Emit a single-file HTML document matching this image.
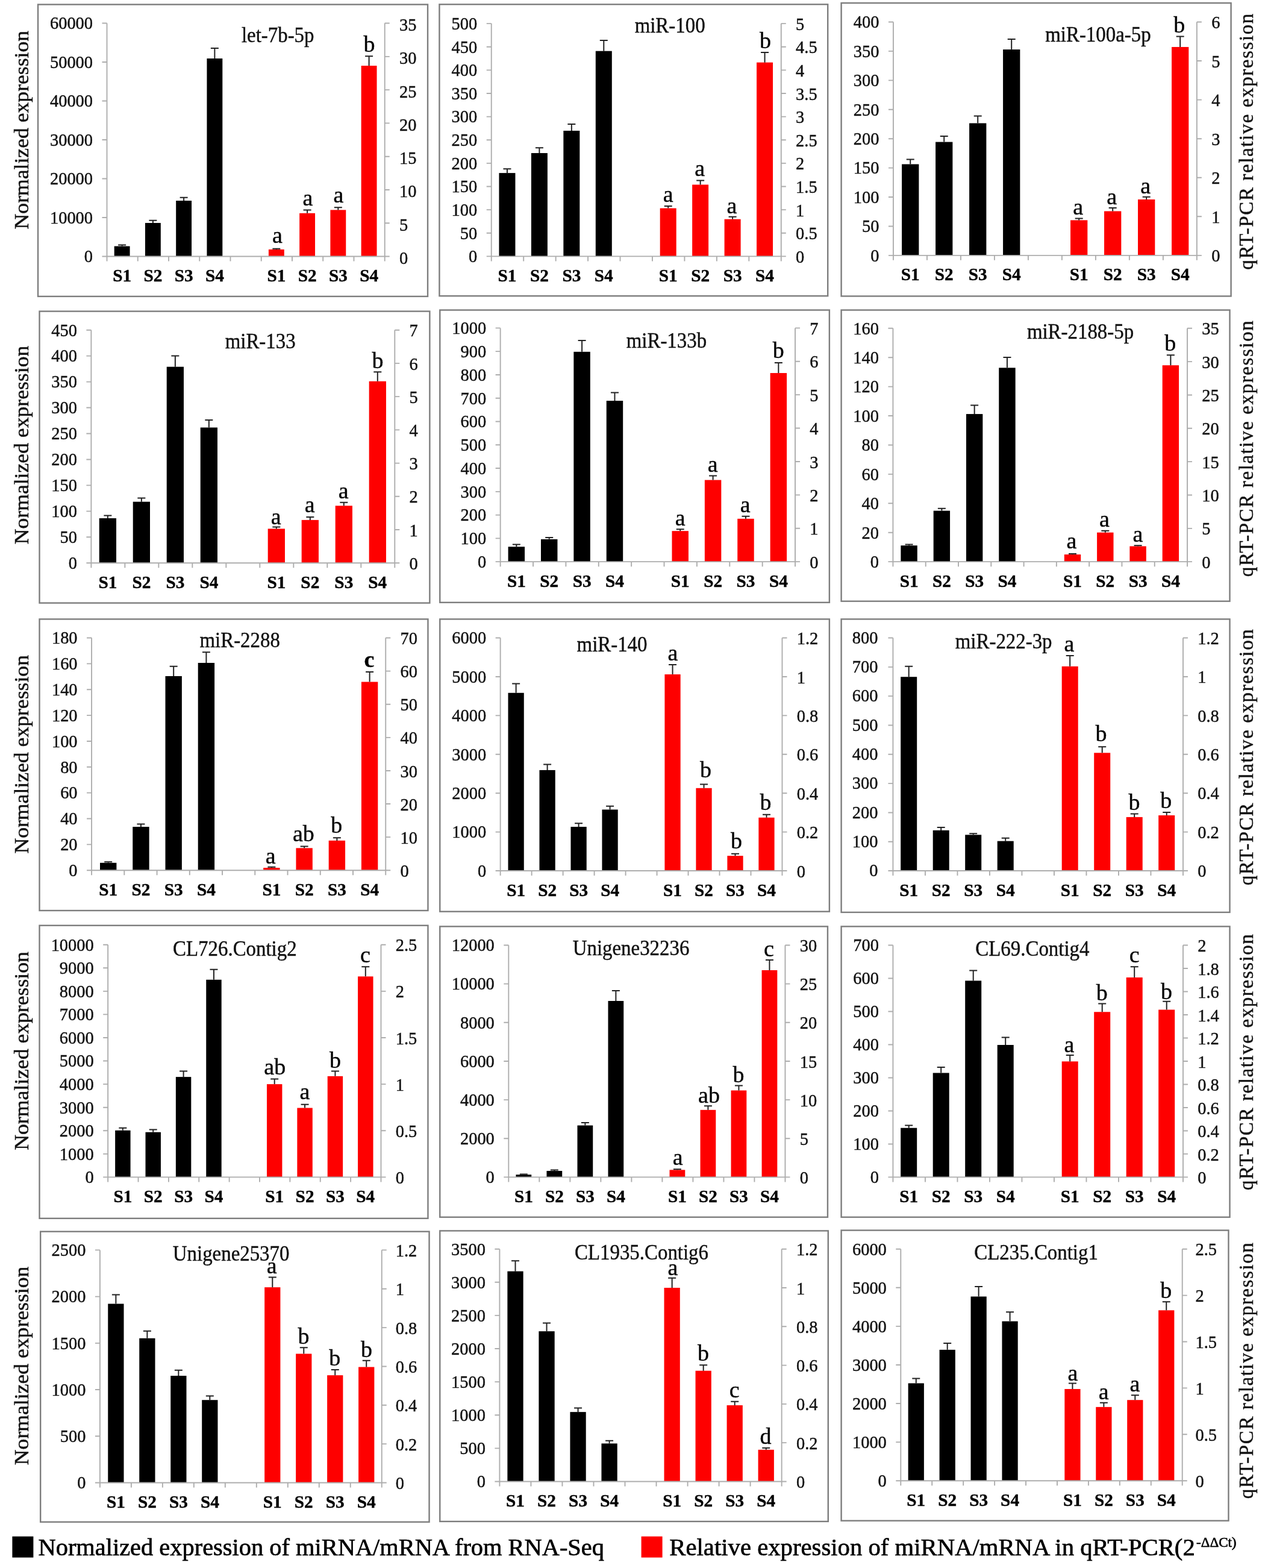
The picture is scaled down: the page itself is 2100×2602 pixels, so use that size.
<!DOCTYPE html>
<html lang="en">
<head>
<meta charset="utf-8">
<title>Normalized expression and qRT-PCR relative expression of miRNA/mRNA</title>
<style>
html,body{margin:0;padding:0;background:#fff}
body{width:2100px;height:2602px;overflow:hidden}
svg{display:block;filter:blur(0.75px)}
text{font-family:"Liberation Serif","DejaVu Serif",serif;fill:#111;stroke:#111;stroke-width:0.45px}
.t text{font-size:29px}
.s text{font-size:28.7px;font-weight:bold;fill:#000}
.ti{font-size:35px}
.l text{font-size:38px;fill:#000}
.y{font-size:33px}
.lg{font-size:41px;fill:#000;stroke:#000;stroke-width:0.7px}
.sup{font-size:22.5px;fill:#000;stroke:#000;stroke-width:0.7px}
</style>
</head>
<body>
<svg width="2100" height="2602" viewBox="0 0 2100 2602">
<rect width="2100" height="2602" fill="#fff"/>
<g>
<rect x="63.04" y="7.47" width="647" height="484.42" fill="#fff" stroke="#7d7d7d" stroke-width="2.4"/>
<rect x="189.69" y="408.53" width="25.88" height="17" fill="#000"/>
<rect x="240.94" y="369.95" width="25.88" height="55.58" fill="#000"/>
<rect x="292.18" y="333.04" width="25.88" height="92.49" fill="#000"/>
<rect x="343.43" y="97.05" width="25.88" height="328.48" fill="#000"/>
<rect x="445.92" y="413.92" width="25.88" height="11.61" fill="#fe0000"/>
<rect x="497.16" y="353.78" width="25.88" height="71.75" fill="#fe0000"/>
<rect x="548.4" y="348.39" width="25.88" height="77.14" fill="#fe0000"/>
<rect x="599.65" y="109.08" width="25.88" height="316.45" fill="#fe0000"/>
<path d="M177.51 38.57V425.53M638.71 38.57V425.53M169.51 425.53H646.71M169.51 361.04H177.51M169.51 296.54H177.51M169.51 232.05H177.51M169.51 167.56H177.51M169.51 103.06H177.51M169.51 38.57H177.51M638.71 370.25H646.71M638.71 314.97H646.71M638.71 259.69H646.71M638.71 204.41H646.71M638.71 149.13H646.71M638.71 93.85H646.71M638.71 38.57H646.71M177.51 425.53V433.53M228.76 425.53V433.53M280 425.53V433.53M331.24 425.53V433.53M382.49 425.53V433.53M433.73 425.53V433.53M484.98 425.53V433.53M536.22 425.53V433.53M587.47 425.53V433.53M638.71 425.53V433.53" stroke="#adadad" stroke-width="1.9" fill="none"/>
<path d="M202.63 408.53V406.45M196.13 406.45H209.13M253.88 369.95V365.81M247.38 365.81H260.38M305.12 333.04V327.65M298.62 327.65H311.62M356.37 97.05V80.05M349.87 80.05H362.87M458.85 413.92V412.67M452.35 412.67H465.35M510.1 353.78V348.39M503.6 348.39H516.6M561.34 348.39V344.24M554.84 344.24H567.84M612.59 109.08V93.32M606.09 93.32H619.09" stroke="#222" stroke-width="2" fill="none"/>
<g class="t" text-anchor="end">
<text transform="translate(154.01 435.33) scale(0.98 1)">0</text>
<text transform="translate(154.01 370.84) scale(0.98 1)">10000</text>
<text transform="translate(154.01 306.34) scale(0.98 1)">20000</text>
<text transform="translate(154.01 241.85) scale(0.98 1)">30000</text>
<text transform="translate(154.01 177.36) scale(0.98 1)">40000</text>
<text transform="translate(154.01 112.86) scale(0.98 1)">50000</text>
<text transform="translate(154.01 48.37) scale(0.98 1)">60000</text>
</g><g class="t">
<text transform="translate(663.01 438.03) scale(0.98 1)">0</text>
<text transform="translate(663.01 382.75) scale(0.98 1)">5</text>
<text transform="translate(663.01 327.47) scale(0.98 1)">10</text>
<text transform="translate(663.01 272.19) scale(0.98 1)">15</text>
<text transform="translate(663.01 216.91) scale(0.98 1)">20</text>
<text transform="translate(663.01 161.63) scale(0.98 1)">25</text>
<text transform="translate(663.01 106.35) scale(0.98 1)">30</text>
<text transform="translate(663.01 51.07) scale(0.98 1)">35</text>
</g>
<g class="s" text-anchor="middle">
<text transform="translate(202.63 467.13) scale(1.02 1)">S1</text>
<text transform="translate(253.88 467.13) scale(1.02 1)">S2</text>
<text transform="translate(305.12 467.13) scale(1.02 1)">S3</text>
<text transform="translate(356.37 467.13) scale(1.02 1)">S4</text>
<text transform="translate(458.85 467.13) scale(1.02 1)">S1</text>
<text transform="translate(510.1 467.13) scale(1.02 1)">S2</text>
<text transform="translate(561.34 467.13) scale(1.02 1)">S3</text>
<text transform="translate(612.59 467.13) scale(1.02 1)">S4</text>
</g>
<text class="ti" transform="translate(461.2 70.14) scale(0.94 1)" text-anchor="middle">let-7b-5p</text>
<g class="l" text-anchor="middle">
<text x="460.37" y="402.81">a</text>
<text x="510.97" y="340.6">a</text>
<text x="561.98" y="336.45">a</text>
<text x="613" y="85.85">b</text>
</g>
<text class="y" text-anchor="middle" transform="translate(46.8 215.67) rotate(-90)" textLength="329.5" lengthAdjust="spacingAndGlyphs">Normalized expression</text>
</g>
<g>
<rect x="729.44" y="7.26" width="644.76" height="483.87" fill="#fff" stroke="#7d7d7d" stroke-width="2.4"/>
<rect x="828.45" y="287.1" width="26.99" height="138.31" fill="#000"/>
<rect x="881.9" y="254.03" width="26.99" height="171.37" fill="#000"/>
<rect x="935.35" y="216.94" width="26.99" height="208.47" fill="#000"/>
<rect x="988.8" y="84.68" width="26.99" height="340.73" fill="#000"/>
<rect x="1095.7" y="345.56" width="26.99" height="79.84" fill="#fe0000"/>
<rect x="1149.15" y="306.45" width="26.99" height="118.95" fill="#fe0000"/>
<rect x="1202.6" y="363.71" width="26.99" height="61.69" fill="#fe0000"/>
<rect x="1256.05" y="103.63" width="26.99" height="321.77" fill="#fe0000"/>
<path d="M815.73 39.11V425.4M1296.77 39.11V425.4M807.73 425.4H1304.77M807.73 386.77H815.73M807.73 348.15H815.73M807.73 309.52H815.73M807.73 270.89H815.73M807.73 232.26H815.73M807.73 193.63H815.73M807.73 155H815.73M807.73 116.37H815.73M807.73 77.74H815.73M807.73 39.11H815.73M1296.77 386.77H1304.77M1296.77 348.15H1304.77M1296.77 309.52H1304.77M1296.77 270.89H1304.77M1296.77 232.26H1304.77M1296.77 193.63H1304.77M1296.77 155H1304.77M1296.77 116.37H1304.77M1296.77 77.74H1304.77M1296.77 39.11H1304.77M815.73 425.4V433.4M869.18 425.4V433.4M922.63 425.4V433.4M976.08 425.4V433.4M1029.53 425.4V433.4M1082.97 425.4V433.4M1136.42 425.4V433.4M1189.87 425.4V433.4M1243.32 425.4V433.4M1296.77 425.4V433.4" stroke="#adadad" stroke-width="1.9" fill="none"/>
<path d="M841.95 287.1V280.24M835.45 280.24H848.45M895.4 254.03V245.16M888.9 245.16H901.9M948.85 216.94V206.05M942.35 206.05H955.35M1002.3 84.68V66.94M995.8 66.94H1008.8M1109.2 345.56V341.94M1102.7 341.94H1115.7M1162.65 306.45V299.6M1156.15 299.6H1169.15M1216.1 363.71V359.68M1209.6 359.68H1222.6M1269.55 103.63V87.1M1263.05 87.1H1276.05" stroke="#222" stroke-width="2" fill="none"/>
<g class="t" text-anchor="end">
<text transform="translate(792.23 435.2) scale(0.98 1)">0</text>
<text transform="translate(792.23 396.57) scale(0.98 1)">50</text>
<text transform="translate(792.23 357.95) scale(0.98 1)">100</text>
<text transform="translate(792.23 319.32) scale(0.98 1)">150</text>
<text transform="translate(792.23 280.69) scale(0.98 1)">200</text>
<text transform="translate(792.23 242.06) scale(0.98 1)">250</text>
<text transform="translate(792.23 203.43) scale(0.98 1)">300</text>
<text transform="translate(792.23 164.8) scale(0.98 1)">350</text>
<text transform="translate(792.23 126.17) scale(0.98 1)">400</text>
<text transform="translate(792.23 87.54) scale(0.98 1)">450</text>
<text transform="translate(792.23 48.91) scale(0.98 1)">500</text>
</g><g class="t">
<text transform="translate(1321.07 436) scale(0.98 1)">0</text>
<text transform="translate(1321.07 397.37) scale(0.98 1)">0.5</text>
<text transform="translate(1321.07 358.75) scale(0.98 1)">1</text>
<text transform="translate(1321.07 320.12) scale(0.98 1)">1.5</text>
<text transform="translate(1321.07 281.49) scale(0.98 1)">2</text>
<text transform="translate(1321.07 242.86) scale(0.98 1)">2.5</text>
<text transform="translate(1321.07 204.23) scale(0.98 1)">3</text>
<text transform="translate(1321.07 165.6) scale(0.98 1)">3.5</text>
<text transform="translate(1321.07 126.97) scale(0.98 1)">4</text>
<text transform="translate(1321.07 88.34) scale(0.98 1)">4.5</text>
<text transform="translate(1321.07 49.71) scale(0.98 1)">5</text>
</g>
<g class="s" text-anchor="middle">
<text transform="translate(841.95 467) scale(1.02 1)">S1</text>
<text transform="translate(895.4 467) scale(1.02 1)">S2</text>
<text transform="translate(948.85 467) scale(1.02 1)">S3</text>
<text transform="translate(1002.3 467) scale(1.02 1)">S4</text>
<text transform="translate(1109.2 467) scale(1.02 1)">S1</text>
<text transform="translate(1162.65 467) scale(1.02 1)">S2</text>
<text transform="translate(1216.1 467) scale(1.02 1)">S3</text>
<text transform="translate(1269.55 467) scale(1.02 1)">S4</text>
</g>
<text class="ti" transform="translate(1112.1 53.55) scale(0.94 1)" text-anchor="middle">miR-100</text>
<g class="l" text-anchor="middle">
<text x="1109.27" y="334.5">a</text>
<text x="1161.69" y="292.27">a</text>
<text x="1214.92" y="354.36">a</text>
<text x="1270.56" y="79.75">b</text>
</g>
</g>
<g>
<rect x="1396.59" y="4.98" width="647" height="486.5" fill="#fff" stroke="#7d7d7d" stroke-width="2.4"/>
<rect x="1497.1" y="272.49" width="28.28" height="151.38" fill="#000"/>
<rect x="1553.09" y="235.58" width="28.28" height="188.29" fill="#000"/>
<rect x="1609.08" y="204.47" width="28.28" height="219.4" fill="#000"/>
<rect x="1665.07" y="82.12" width="28.28" height="341.75" fill="#000"/>
<rect x="1777.05" y="365.39" width="28.28" height="58.48" fill="#fe0000"/>
<rect x="1833.04" y="350.46" width="28.28" height="73.41" fill="#fe0000"/>
<rect x="1889.04" y="330.97" width="28.28" height="92.9" fill="#fe0000"/>
<rect x="1945.03" y="77.97" width="28.28" height="345.9" fill="#fe0000"/>
<path d="M1482.94 36.5V423.87M1986.86 36.5V423.87M1474.94 423.87H1994.86M1474.94 375.45H1482.94M1474.94 327.03H1482.94M1474.94 278.61H1482.94M1474.94 230.18H1482.94M1474.94 181.76H1482.94M1474.94 133.34H1482.94M1474.94 84.92H1482.94M1474.94 36.5H1482.94M1986.86 359.31H1994.86M1986.86 294.75H1994.86M1986.86 230.18H1994.86M1986.86 165.62H1994.86M1986.86 101.06H1994.86M1986.86 36.5H1994.86M1482.94 423.87V431.87M1538.93 423.87V431.87M1594.92 423.87V431.87M1650.91 423.87V431.87M1706.91 423.87V431.87M1762.9 423.87V431.87M1818.89 423.87V431.87M1874.88 423.87V431.87M1930.87 423.87V431.87M1986.86 423.87V431.87" stroke="#adadad" stroke-width="1.9" fill="none"/>
<path d="M1511.24 272.49V264.61M1504.74 264.61H1517.74M1567.23 235.58V226.04M1560.73 226.04H1573.73M1623.22 204.47V192.44M1616.72 192.44H1629.72M1679.21 82.12V65.12M1672.71 65.12H1685.71M1791.19 365.39V362.49M1784.69 362.49H1797.69M1847.18 350.46V345.07M1840.68 345.07H1853.68M1903.17 330.97V326.82M1896.67 326.82H1909.67M1959.16 77.97V60.55M1952.66 60.55H1965.66" stroke="#222" stroke-width="2" fill="none"/>
<g class="t" text-anchor="end">
<text transform="translate(1459.44 433.67) scale(0.98 1)">0</text>
<text transform="translate(1459.44 385.25) scale(0.98 1)">50</text>
<text transform="translate(1459.44 336.83) scale(0.98 1)">100</text>
<text transform="translate(1459.44 288.41) scale(0.98 1)">150</text>
<text transform="translate(1459.44 239.98) scale(0.98 1)">200</text>
<text transform="translate(1459.44 191.56) scale(0.98 1)">250</text>
<text transform="translate(1459.44 143.14) scale(0.98 1)">300</text>
<text transform="translate(1459.44 94.72) scale(0.98 1)">350</text>
<text transform="translate(1459.44 46.3) scale(0.98 1)">400</text>
</g><g class="t">
<text transform="translate(2011.16 434.47) scale(0.98 1)">0</text>
<text transform="translate(2011.16 369.91) scale(0.98 1)">1</text>
<text transform="translate(2011.16 305.35) scale(0.98 1)">2</text>
<text transform="translate(2011.16 240.78) scale(0.98 1)">3</text>
<text transform="translate(2011.16 176.22) scale(0.98 1)">4</text>
<text transform="translate(2011.16 111.66) scale(0.98 1)">5</text>
<text transform="translate(2011.16 47.1) scale(0.98 1)">6</text>
</g>
<g class="s" text-anchor="middle">
<text transform="translate(1511.24 465.47) scale(1.02 1)">S1</text>
<text transform="translate(1567.23 465.47) scale(1.02 1)">S2</text>
<text transform="translate(1623.22 465.47) scale(1.02 1)">S3</text>
<text transform="translate(1679.21 465.47) scale(1.02 1)">S4</text>
<text transform="translate(1791.19 465.47) scale(1.02 1)">S1</text>
<text transform="translate(1847.18 465.47) scale(1.02 1)">S2</text>
<text transform="translate(1903.17 465.47) scale(1.02 1)">S3</text>
<text transform="translate(1959.16 465.47) scale(1.02 1)">S4</text>
</g>
<text class="ti" transform="translate(1822.95 69.31) scale(0.94 1)" text-anchor="middle">miR-100a-5p</text>
<g class="l" text-anchor="middle">
<text x="1789.77" y="356.36">a</text>
<text x="1845.76" y="338.52">a</text>
<text x="1901.75" y="320.69">a</text>
<text x="1957.74" y="53.92">b</text>
</g>
<text class="y" text-anchor="middle" transform="translate(2079.55 235.16) rotate(-90)" textLength="425" lengthAdjust="spacing">qRT-PCR relative expression</text>
</g>
<g>
<rect x="65.53" y="516.59" width="647.83" height="484.01" fill="#fff" stroke="#7d7d7d" stroke-width="2.4"/>
<rect x="164.74" y="860" width="28.28" height="74.24" fill="#000"/>
<rect x="220.73" y="832.63" width="28.28" height="101.61" fill="#000"/>
<rect x="276.72" y="608.66" width="28.28" height="325.58" fill="#000"/>
<rect x="332.71" y="709.45" width="28.28" height="224.79" fill="#000"/>
<rect x="444.69" y="877.42" width="28.28" height="56.82" fill="#fe0000"/>
<rect x="500.68" y="862.9" width="28.28" height="71.34" fill="#fe0000"/>
<rect x="556.68" y="839.26" width="28.28" height="94.98" fill="#fe0000"/>
<rect x="612.67" y="632.72" width="28.28" height="301.52" fill="#fe0000"/>
<path d="M151.38 547.7V934.24M655.3 547.7V934.24M143.38 934.24H663.3M143.38 891.29H151.38M143.38 848.34H151.38M143.38 805.39H151.38M143.38 762.44H151.38M143.38 719.49H151.38M143.38 676.54H151.38M143.38 633.59H151.38M143.38 590.65H151.38M143.38 547.7H151.38M655.3 879.02H663.3M655.3 823.8H663.3M655.3 768.58H663.3M655.3 713.36H663.3M655.3 658.14H663.3M655.3 602.92H663.3M655.3 547.7H663.3M151.38 934.24V942.24M207.37 934.24V942.24M263.36 934.24V942.24M319.35 934.24V942.24M375.35 934.24V942.24M431.34 934.24V942.24M487.33 934.24V942.24M543.32 934.24V942.24M599.31 934.24V942.24M655.3 934.24V942.24" stroke="#adadad" stroke-width="1.9" fill="none"/>
<path d="M178.88 860V855.44M172.38 855.44H185.38M234.87 832.63V826.41M228.37 826.41H241.37M290.86 608.66V590.41M284.36 590.41H297.36M346.85 709.45V697M340.35 697H353.35M458.83 877.42V874.52M452.33 874.52H465.33M514.82 862.9V857.93M508.32 857.93H521.32M570.81 839.26V833.87M564.31 833.87H577.31M626.8 632.72V617.37M620.3 617.37H633.3" stroke="#222" stroke-width="2" fill="none"/>
<g class="t" text-anchor="end">
<text transform="translate(127.88 944.04) scale(0.98 1)">0</text>
<text transform="translate(127.88 901.09) scale(0.98 1)">50</text>
<text transform="translate(127.88 858.14) scale(0.98 1)">100</text>
<text transform="translate(127.88 815.19) scale(0.98 1)">150</text>
<text transform="translate(127.88 772.24) scale(0.98 1)">200</text>
<text transform="translate(127.88 729.29) scale(0.98 1)">250</text>
<text transform="translate(127.88 686.34) scale(0.98 1)">300</text>
<text transform="translate(127.88 643.39) scale(0.98 1)">350</text>
<text transform="translate(127.88 600.45) scale(0.98 1)">400</text>
<text transform="translate(127.88 557.5) scale(0.98 1)">450</text>
</g><g class="t">
<text transform="translate(679.6 944.84) scale(0.98 1)">0</text>
<text transform="translate(679.6 889.62) scale(0.98 1)">1</text>
<text transform="translate(679.6 834.4) scale(0.98 1)">2</text>
<text transform="translate(679.6 779.18) scale(0.98 1)">3</text>
<text transform="translate(679.6 723.96) scale(0.98 1)">4</text>
<text transform="translate(679.6 668.74) scale(0.98 1)">5</text>
<text transform="translate(679.6 613.52) scale(0.98 1)">6</text>
<text transform="translate(679.6 558.3) scale(0.98 1)">7</text>
</g>
<g class="s" text-anchor="middle">
<text transform="translate(178.88 975.84) scale(1.02 1)">S1</text>
<text transform="translate(234.87 975.84) scale(1.02 1)">S2</text>
<text transform="translate(290.86 975.84) scale(1.02 1)">S3</text>
<text transform="translate(346.85 975.84) scale(1.02 1)">S4</text>
<text transform="translate(458.83 975.84) scale(1.02 1)">S1</text>
<text transform="translate(514.82 975.84) scale(1.02 1)">S2</text>
<text transform="translate(570.81 975.84) scale(1.02 1)">S3</text>
<text transform="translate(626.8 975.84) scale(1.02 1)">S4</text>
</g>
<text class="ti" transform="translate(432.17 578.43) scale(0.94 1)" text-anchor="middle">miR-133</text>
<g class="l" text-anchor="middle">
<text x="458.29" y="869.63">a</text>
<text x="514.29" y="849.72">a</text>
<text x="570.28" y="827.33">a</text>
<text x="627.1" y="610.74">b</text>
</g>
<text class="y" text-anchor="middle" transform="translate(46.8 738.48) rotate(-90)" textLength="329.5" lengthAdjust="spacingAndGlyphs">Normalized expression</text>
</g>
<g>
<rect x="730.28" y="514.52" width="646.59" height="485.25" fill="#fff" stroke="#7d7d7d" stroke-width="2.4"/>
<rect x="843.6" y="907.28" width="27.46" height="24.88" fill="#000"/>
<rect x="897.98" y="894.84" width="27.46" height="37.33" fill="#000"/>
<rect x="952.36" y="583.78" width="27.46" height="348.39" fill="#000"/>
<rect x="1006.74" y="665.07" width="27.46" height="267.1" fill="#000"/>
<rect x="1115.49" y="881.15" width="27.46" height="51.01" fill="#fe0000"/>
<rect x="1169.87" y="796.54" width="27.46" height="135.62" fill="#fe0000"/>
<rect x="1224.25" y="860.83" width="27.46" height="71.34" fill="#fe0000"/>
<rect x="1278.63" y="619.03" width="27.46" height="313.13" fill="#fe0000"/>
<path d="M830.65 544.38V932.17M1320.05 544.38V932.17M822.65 932.17H1328.05M822.65 893.39H830.65M822.65 854.61H830.65M822.65 815.83H830.65M822.65 777.05H830.65M822.65 738.27H830.65M822.65 699.49H830.65M822.65 660.71H830.65M822.65 621.94H830.65M822.65 583.16H830.65M822.65 544.38H830.65M1320.05 876.77H1328.05M1320.05 821.37H1328.05M1320.05 765.97H1328.05M1320.05 710.57H1328.05M1320.05 655.17H1328.05M1320.05 599.78H1328.05M1320.05 544.38H1328.05M830.65 932.17V940.17M885.02 932.17V940.17M939.4 932.17V940.17M993.78 932.17V940.17M1048.16 932.17V940.17M1102.53 932.17V940.17M1156.91 932.17V940.17M1211.29 932.17V940.17M1265.67 932.17V940.17M1320.05 932.17V940.17" stroke="#adadad" stroke-width="1.9" fill="none"/>
<path d="M857.33 907.28V903.55M850.83 903.55H863.83M911.71 894.84V891.94M905.21 891.94H918.21M966.09 583.78V565.12M959.59 565.12H972.59M1020.47 665.07V651.38M1013.97 651.38H1026.97M1129.22 881.15V878.25M1122.72 878.25H1135.72M1183.6 796.54V789.49M1177.1 789.49H1190.1M1237.98 860.83V856.68M1231.48 856.68H1244.48M1292.36 619.03V602.03M1285.86 602.03H1298.86" stroke="#222" stroke-width="2" fill="none"/>
<g class="t" text-anchor="end">
<text transform="translate(807.15 941.97) scale(0.98 1)">0</text>
<text transform="translate(807.15 903.19) scale(0.98 1)">100</text>
<text transform="translate(807.15 864.41) scale(0.98 1)">200</text>
<text transform="translate(807.15 825.63) scale(0.98 1)">300</text>
<text transform="translate(807.15 786.85) scale(0.98 1)">400</text>
<text transform="translate(807.15 748.07) scale(0.98 1)">500</text>
<text transform="translate(807.15 709.29) scale(0.98 1)">600</text>
<text transform="translate(807.15 670.51) scale(0.98 1)">700</text>
<text transform="translate(807.15 631.74) scale(0.98 1)">800</text>
<text transform="translate(807.15 592.96) scale(0.98 1)">900</text>
<text transform="translate(807.15 554.18) scale(0.98 1)">1000</text>
</g><g class="t">
<text transform="translate(1344.35 942.77) scale(0.98 1)">0</text>
<text transform="translate(1344.35 887.37) scale(0.98 1)">1</text>
<text transform="translate(1344.35 831.97) scale(0.98 1)">2</text>
<text transform="translate(1344.35 776.57) scale(0.98 1)">3</text>
<text transform="translate(1344.35 721.17) scale(0.98 1)">4</text>
<text transform="translate(1344.35 665.77) scale(0.98 1)">5</text>
<text transform="translate(1344.35 610.38) scale(0.98 1)">6</text>
<text transform="translate(1344.35 554.98) scale(0.98 1)">7</text>
</g>
<g class="s" text-anchor="middle">
<text transform="translate(857.33 973.77) scale(1.02 1)">S1</text>
<text transform="translate(911.71 973.77) scale(1.02 1)">S2</text>
<text transform="translate(966.09 973.77) scale(1.02 1)">S3</text>
<text transform="translate(1020.47 973.77) scale(1.02 1)">S4</text>
<text transform="translate(1129.22 973.77) scale(1.02 1)">S1</text>
<text transform="translate(1183.6 973.77) scale(1.02 1)">S2</text>
<text transform="translate(1237.98 973.77) scale(1.02 1)">S3</text>
<text transform="translate(1292.36 973.77) scale(1.02 1)">S4</text>
</g>
<text class="ti" transform="translate(1106.45 577.19) scale(0.94 1)" text-anchor="middle">miR-133b</text>
<g class="l" text-anchor="middle">
<text x="1129.26" y="871.7">a</text>
<text x="1183.18" y="783.36">a</text>
<text x="1237.1" y="849.72">a</text>
<text x="1292.26" y="594.15">b</text>
</g>
</g>
<g>
<rect x="1396.59" y="514.52" width="644.93" height="483.18" fill="#fff" stroke="#7d7d7d" stroke-width="2.4"/>
<rect x="1495.38" y="905.21" width="27.41" height="26.96" fill="#000"/>
<rect x="1549.66" y="847.56" width="27.41" height="84.61" fill="#000"/>
<rect x="1603.95" y="687.05" width="27.41" height="245.12" fill="#000"/>
<rect x="1658.24" y="610.32" width="27.41" height="321.84" fill="#000"/>
<rect x="1766.81" y="920.14" width="27.41" height="12.03" fill="#fe0000"/>
<rect x="1821.09" y="883.64" width="27.41" height="48.53" fill="#fe0000"/>
<rect x="1875.38" y="906.45" width="27.41" height="25.71" fill="#fe0000"/>
<rect x="1929.66" y="606.18" width="27.41" height="325.99" fill="#fe0000"/>
<path d="M1482.44 544.79V932.17M1971.01 544.79V932.17M1474.44 932.17H1979.01M1474.44 883.74H1482.44M1474.44 835.32H1482.44M1474.44 786.9H1482.44M1474.44 738.48H1482.44M1474.44 690.06H1482.44M1474.44 641.64H1482.44M1474.44 593.21H1482.44M1474.44 544.79H1482.44M1971.01 876.83H1979.01M1971.01 821.49H1979.01M1971.01 766.15H1979.01M1971.01 710.81H1979.01M1971.01 655.47H1979.01M1971.01 600.13H1979.01M1971.01 544.79H1979.01M1482.44 932.17V940.17M1536.73 932.17V940.17M1591.01 932.17V940.17M1645.3 932.17V940.17M1699.59 932.17V940.17M1753.87 932.17V940.17M1808.16 932.17V940.17M1862.44 932.17V940.17M1916.73 932.17V940.17M1971.01 932.17V940.17" stroke="#adadad" stroke-width="1.9" fill="none"/>
<path d="M1509.09 905.21V903.55M1502.59 903.55H1515.59M1563.37 847.56V843.82M1556.87 843.82H1569.87M1617.66 687.05V672.53M1611.16 672.53H1624.16M1671.94 610.32V592.9M1665.44 592.9H1678.44M1780.51 920.14V918.89M1774.01 918.89H1787.01M1834.8 883.64V880.74M1828.3 880.74H1841.3M1889.09 906.45V905.21M1882.59 905.21H1895.59M1943.37 606.18V589.17M1936.87 589.17H1949.87" stroke="#222" stroke-width="2" fill="none"/>
<g class="t" text-anchor="end">
<text transform="translate(1458.94 941.97) scale(0.98 1)">0</text>
<text transform="translate(1458.94 893.54) scale(0.98 1)">20</text>
<text transform="translate(1458.94 845.12) scale(0.98 1)">40</text>
<text transform="translate(1458.94 796.7) scale(0.98 1)">60</text>
<text transform="translate(1458.94 748.28) scale(0.98 1)">80</text>
<text transform="translate(1458.94 699.86) scale(0.98 1)">100</text>
<text transform="translate(1458.94 651.44) scale(0.98 1)">120</text>
<text transform="translate(1458.94 603.01) scale(0.98 1)">140</text>
<text transform="translate(1458.94 554.59) scale(0.98 1)">160</text>
</g><g class="t">
<text transform="translate(1995.31 942.77) scale(0.98 1)">0</text>
<text transform="translate(1995.31 887.43) scale(0.98 1)">5</text>
<text transform="translate(1995.31 832.09) scale(0.98 1)">10</text>
<text transform="translate(1995.31 776.75) scale(0.98 1)">15</text>
<text transform="translate(1995.31 721.41) scale(0.98 1)">20</text>
<text transform="translate(1995.31 666.07) scale(0.98 1)">25</text>
<text transform="translate(1995.31 610.73) scale(0.98 1)">30</text>
<text transform="translate(1995.31 555.39) scale(0.98 1)">35</text>
</g>
<g class="s" text-anchor="middle">
<text transform="translate(1509.09 973.77) scale(1.02 1)">S1</text>
<text transform="translate(1563.37 973.77) scale(1.02 1)">S2</text>
<text transform="translate(1617.66 973.77) scale(1.02 1)">S3</text>
<text transform="translate(1671.94 973.77) scale(1.02 1)">S4</text>
<text transform="translate(1780.51 973.77) scale(1.02 1)">S1</text>
<text transform="translate(1834.8 973.77) scale(1.02 1)">S2</text>
<text transform="translate(1889.09 973.77) scale(1.02 1)">S3</text>
<text transform="translate(1943.37 973.77) scale(1.02 1)">S4</text>
</g>
<text class="ti" transform="translate(1793.5 561.84) scale(0.94 1)" text-anchor="middle">miR-2188-5p</text>
<g class="l" text-anchor="middle">
<text x="1778.99" y="910.27">a</text>
<text x="1833.32" y="873.78">a</text>
<text x="1888.89" y="899.49">a</text>
<text x="1942.81" y="581.71">b</text>
</g>
<text class="y" text-anchor="middle" transform="translate(2079.55 744.7) rotate(-90)" textLength="425" lengthAdjust="spacing">qRT-PCR relative expression</text>
</g>
<g>
<rect x="65.53" y="1027.42" width="644.93" height="483.59" fill="#fff" stroke="#7d7d7d" stroke-width="2.4"/>
<rect x="166.01" y="1431.8" width="27.39" height="12.44" fill="#000"/>
<rect x="220.25" y="1372.07" width="27.39" height="72.17" fill="#000"/>
<rect x="274.49" y="1121.98" width="27.39" height="322.26" fill="#000"/>
<rect x="328.73" y="1100" width="27.39" height="344.24" fill="#000"/>
<rect x="437.2" y="1440.09" width="27.39" height="4.15" fill="#fe0000"/>
<rect x="491.44" y="1407.33" width="27.39" height="36.91" fill="#fe0000"/>
<rect x="545.68" y="1394.88" width="27.39" height="49.35" fill="#fe0000"/>
<rect x="599.92" y="1131.52" width="27.39" height="312.72" fill="#fe0000"/>
<path d="M152.08 1058.53V1444.24M640.24 1058.53V1444.24M144.08 1444.24H648.24M144.08 1401.38H152.08M144.08 1358.53H152.08M144.08 1315.67H152.08M144.08 1272.81H152.08M144.08 1229.95H152.08M144.08 1187.1H152.08M144.08 1144.24H152.08M144.08 1101.38H152.08M144.08 1058.53H152.08M640.24 1389.14H648.24M640.24 1334.04H648.24M640.24 1278.93H648.24M640.24 1223.83H648.24M640.24 1168.73H648.24M640.24 1113.63H648.24M640.24 1058.53H648.24M152.08 1444.24V1452.24M206.32 1444.24V1452.24M260.56 1444.24V1452.24M314.8 1444.24V1452.24M369.04 1444.24V1452.24M423.28 1444.24V1452.24M477.52 1444.24V1452.24M531.76 1444.24V1452.24M586 1444.24V1452.24M640.24 1444.24V1452.24" stroke="#adadad" stroke-width="1.9" fill="none"/>
<path d="M179.7 1431.8V1430.14M173.2 1430.14H186.2M233.94 1372.07V1367.51M227.44 1367.51H240.44M288.18 1121.98V1105.81M281.68 1105.81H294.68M342.42 1100V1082.17M335.92 1082.17H348.92M450.9 1440.09V1438.85M444.4 1438.85H457.4M505.14 1407.33V1404.42M498.64 1404.42H511.64M559.38 1394.88V1390.32M552.88 1390.32H565.88M613.62 1131.52V1114.93M607.12 1114.93H620.12" stroke="#222" stroke-width="2" fill="none"/>
<g class="t" text-anchor="end">
<text transform="translate(128.58 1454.04) scale(0.98 1)">0</text>
<text transform="translate(128.58 1411.18) scale(0.98 1)">20</text>
<text transform="translate(128.58 1368.33) scale(0.98 1)">40</text>
<text transform="translate(128.58 1325.47) scale(0.98 1)">60</text>
<text transform="translate(128.58 1282.61) scale(0.98 1)">80</text>
<text transform="translate(128.58 1239.75) scale(0.98 1)">100</text>
<text transform="translate(128.58 1196.9) scale(0.98 1)">120</text>
<text transform="translate(128.58 1154.04) scale(0.98 1)">140</text>
<text transform="translate(128.58 1111.18) scale(0.98 1)">160</text>
<text transform="translate(128.58 1068.33) scale(0.98 1)">180</text>
</g><g class="t">
<text transform="translate(664.54 1454.84) scale(0.98 1)">0</text>
<text transform="translate(664.54 1399.74) scale(0.98 1)">10</text>
<text transform="translate(664.54 1344.64) scale(0.98 1)">20</text>
<text transform="translate(664.54 1289.53) scale(0.98 1)">30</text>
<text transform="translate(664.54 1234.43) scale(0.98 1)">40</text>
<text transform="translate(664.54 1179.33) scale(0.98 1)">50</text>
<text transform="translate(664.54 1124.23) scale(0.98 1)">60</text>
<text transform="translate(664.54 1069.13) scale(0.98 1)">70</text>
</g>
<g class="s" text-anchor="middle">
<text transform="translate(179.7 1485.84) scale(1.02 1)">S1</text>
<text transform="translate(233.94 1485.84) scale(1.02 1)">S2</text>
<text transform="translate(288.18 1485.84) scale(1.02 1)">S3</text>
<text transform="translate(342.42 1485.84) scale(1.02 1)">S4</text>
<text transform="translate(450.9 1485.84) scale(1.02 1)">S1</text>
<text transform="translate(505.14 1485.84) scale(1.02 1)">S2</text>
<text transform="translate(559.38 1485.84) scale(1.02 1)">S3</text>
<text transform="translate(613.62 1485.84) scale(1.02 1)">S4</text>
</g>
<text class="ti" transform="translate(398.16 1073.92) scale(0.94 1)" text-anchor="middle">miR-2288</text>
<g class="l" text-anchor="middle">
<text x="449.17" y="1432.72">a</text>
<text x="503.92" y="1396.32">ab</text>
<text x="558.66" y="1382.03">b</text>
<text x="613" y="1106.73" font-weight="bold">c</text>
</g>
<text class="y" text-anchor="middle" transform="translate(46.8 1251.8) rotate(-90)" textLength="329.5" lengthAdjust="spacingAndGlyphs">Normalized expression</text>
</g>
<g>
<rect x="730.28" y="1027.42" width="646.59" height="485.25" fill="#fff" stroke="#7d7d7d" stroke-width="2.4"/>
<rect x="843.51" y="1149.77" width="26.25" height="295.3" fill="#000"/>
<rect x="895.49" y="1277.93" width="26.25" height="167.14" fill="#000"/>
<rect x="947.47" y="1372.07" width="26.25" height="73" fill="#000"/>
<rect x="999.46" y="1343.46" width="26.25" height="101.61" fill="#000"/>
<rect x="1103.42" y="1119.08" width="26.25" height="325.99" fill="#fe0000"/>
<rect x="1155.4" y="1307.79" width="26.25" height="137.28" fill="#fe0000"/>
<rect x="1207.38" y="1420.18" width="26.25" height="24.88" fill="#fe0000"/>
<rect x="1259.36" y="1356.73" width="26.25" height="88.34" fill="#fe0000"/>
<path d="M830.65 1058.53V1445.07M1298.48 1058.53V1445.07M822.65 1445.07H1306.48M822.65 1380.65H830.65M822.65 1316.22H830.65M822.65 1251.8H830.65M822.65 1187.37H830.65M822.65 1122.95H830.65M822.65 1058.53H830.65M1298.48 1380.65H1306.48M1298.48 1316.22H1306.48M1298.48 1251.8H1306.48M1298.48 1187.37H1306.48M1298.48 1122.95H1306.48M1298.48 1058.53H1306.48M830.65 1445.07V1453.07M882.63 1445.07V1453.07M934.61 1445.07V1453.07M986.59 1445.07V1453.07M1038.57 1445.07V1453.07M1090.55 1445.07V1453.07M1142.53 1445.07V1453.07M1194.52 1445.07V1453.07M1246.5 1445.07V1453.07M1298.48 1445.07V1453.07" stroke="#adadad" stroke-width="1.9" fill="none"/>
<path d="M856.64 1149.77V1134.42M850.14 1134.42H863.14M908.62 1277.93V1268.39M902.12 1268.39H915.12M960.6 1372.07V1366.27M954.1 1366.27H967.1M1012.58 1343.46V1337.65M1006.08 1337.65H1019.08M1116.54 1119.08V1102.9M1110.04 1102.9H1123.04M1168.53 1307.79V1301.57M1162.03 1301.57H1175.03M1220.51 1420.18V1416.87M1214.01 1416.87H1227.01M1272.49 1356.73V1351.75M1265.99 1351.75H1278.99" stroke="#222" stroke-width="2" fill="none"/>
<g class="t" text-anchor="end">
<text transform="translate(807.15 1454.87) scale(0.98 1)">0</text>
<text transform="translate(807.15 1390.45) scale(0.98 1)">1000</text>
<text transform="translate(807.15 1326.02) scale(0.98 1)">2000</text>
<text transform="translate(807.15 1261.6) scale(0.98 1)">3000</text>
<text transform="translate(807.15 1197.17) scale(0.98 1)">4000</text>
<text transform="translate(807.15 1132.75) scale(0.98 1)">5000</text>
<text transform="translate(807.15 1068.33) scale(0.98 1)">6000</text>
</g><g class="t">
<text transform="translate(1322.78 1455.67) scale(0.98 1)">0</text>
<text transform="translate(1322.78 1391.25) scale(0.98 1)">0.2</text>
<text transform="translate(1322.78 1326.82) scale(0.98 1)">0.4</text>
<text transform="translate(1322.78 1262.4) scale(0.98 1)">0.6</text>
<text transform="translate(1322.78 1197.97) scale(0.98 1)">0.8</text>
<text transform="translate(1322.78 1133.55) scale(0.98 1)">1</text>
<text transform="translate(1322.78 1069.13) scale(0.98 1)">1.2</text>
</g>
<g class="s" text-anchor="middle">
<text transform="translate(856.64 1486.67) scale(1.02 1)">S1</text>
<text transform="translate(908.62 1486.67) scale(1.02 1)">S2</text>
<text transform="translate(960.6 1486.67) scale(1.02 1)">S3</text>
<text transform="translate(1012.58 1486.67) scale(1.02 1)">S4</text>
<text transform="translate(1116.54 1486.67) scale(1.02 1)">S1</text>
<text transform="translate(1168.53 1486.67) scale(1.02 1)">S2</text>
<text transform="translate(1220.51 1486.67) scale(1.02 1)">S3</text>
<text transform="translate(1272.49 1486.67) scale(1.02 1)">S4</text>
</g>
<text class="ti" transform="translate(1016.04 1081.38) scale(0.94 1)" text-anchor="middle">miR-140</text>
<g class="l" text-anchor="middle">
<text x="1116.82" y="1095.53">a</text>
<text x="1171.57" y="1290.31">b</text>
<text x="1222.58" y="1407.91">b</text>
<text x="1271.11" y="1343.87">b</text>
</g>
</g>
<g>
<rect x="1396.59" y="1027.42" width="644.93" height="486.5" fill="#fff" stroke="#7d7d7d" stroke-width="2.4"/>
<rect x="1495.18" y="1123.23" width="27.02" height="321.84" fill="#000"/>
<rect x="1548.69" y="1377.88" width="27.02" height="67.19" fill="#000"/>
<rect x="1602.19" y="1385.35" width="27.02" height="59.72" fill="#000"/>
<rect x="1655.69" y="1395.71" width="27.02" height="49.35" fill="#000"/>
<rect x="1762.7" y="1105.81" width="27.02" height="339.26" fill="#fe0000"/>
<rect x="1816.2" y="1249.31" width="27.02" height="195.76" fill="#fe0000"/>
<rect x="1869.7" y="1355.9" width="27.02" height="89.17" fill="#fe0000"/>
<rect x="1923.2" y="1353" width="27.02" height="92.07" fill="#fe0000"/>
<path d="M1482.44 1058.53V1445.07M1963.96 1058.53V1445.07M1474.44 1445.07H1971.96M1474.44 1396.75H1482.44M1474.44 1348.43H1482.44M1474.44 1300.12H1482.44M1474.44 1251.8H1482.44M1474.44 1203.48H1482.44M1474.44 1155.16H1482.44M1474.44 1106.84H1482.44M1474.44 1058.53H1482.44M1963.96 1380.65H1971.96M1963.96 1316.22H1971.96M1963.96 1251.8H1971.96M1963.96 1187.37H1971.96M1963.96 1122.95H1971.96M1963.96 1058.53H1971.96M1482.44 1445.07V1453.07M1535.94 1445.07V1453.07M1589.45 1445.07V1453.07M1642.95 1445.07V1453.07M1696.45 1445.07V1453.07M1749.95 1445.07V1453.07M1803.46 1445.07V1453.07M1856.96 1445.07V1453.07M1910.46 1445.07V1453.07M1963.96 1445.07V1453.07" stroke="#adadad" stroke-width="1.9" fill="none"/>
<path d="M1508.69 1123.23V1105.81M1502.19 1105.81H1515.19M1562.2 1377.88V1372.9M1555.7 1372.9H1568.7M1615.7 1385.35V1383.27M1609.2 1383.27H1622.2M1669.2 1395.71V1390.74M1662.7 1390.74H1675.7M1776.21 1105.81V1087.97M1769.71 1087.97H1782.71M1829.71 1249.31V1239.35M1823.21 1239.35H1836.21M1883.21 1355.9V1350.51M1876.71 1350.51H1889.71M1936.71 1353V1348.02M1930.21 1348.02H1943.21" stroke="#222" stroke-width="2" fill="none"/>
<g class="t" text-anchor="end">
<text transform="translate(1457.44 1454.27) scale(0.98 1)">0</text>
<text transform="translate(1457.44 1405.95) scale(0.98 1)">100</text>
<text transform="translate(1457.44 1357.63) scale(0.98 1)">200</text>
<text transform="translate(1457.44 1309.32) scale(0.98 1)">300</text>
<text transform="translate(1457.44 1261) scale(0.98 1)">400</text>
<text transform="translate(1457.44 1212.68) scale(0.98 1)">500</text>
<text transform="translate(1457.44 1164.36) scale(0.98 1)">600</text>
<text transform="translate(1457.44 1116.04) scale(0.98 1)">700</text>
<text transform="translate(1457.44 1067.73) scale(0.98 1)">800</text>
</g><g class="t">
<text transform="translate(1988.26 1455.27) scale(0.98 1)">0</text>
<text transform="translate(1988.26 1390.85) scale(0.98 1)">0.2</text>
<text transform="translate(1988.26 1326.42) scale(0.98 1)">0.4</text>
<text transform="translate(1988.26 1262) scale(0.98 1)">0.6</text>
<text transform="translate(1988.26 1197.57) scale(0.98 1)">0.8</text>
<text transform="translate(1988.26 1133.15) scale(0.98 1)">1</text>
<text transform="translate(1988.26 1068.73) scale(0.98 1)">1.2</text>
</g>
<g class="s" text-anchor="middle">
<text transform="translate(1508.69 1486.67) scale(1.02 1)">S1</text>
<text transform="translate(1562.2 1486.67) scale(1.02 1)">S2</text>
<text transform="translate(1615.7 1486.67) scale(1.02 1)">S3</text>
<text transform="translate(1669.2 1486.67) scale(1.02 1)">S4</text>
<text transform="translate(1776.21 1486.67) scale(1.02 1)">S1</text>
<text transform="translate(1829.71 1486.67) scale(1.02 1)">S2</text>
<text transform="translate(1883.21 1486.67) scale(1.02 1)">S3</text>
<text transform="translate(1936.71 1486.67) scale(1.02 1)">S4</text>
</g>
<text class="ti" transform="translate(1666.18 1075.99) scale(0.94 1)" text-anchor="middle">miR-222-3p</text>
<g class="l" text-anchor="middle">
<text x="1774.84" y="1081.01">a</text>
<text x="1827.93" y="1229.82">b</text>
<text x="1883.09" y="1343.87">b</text>
<text x="1935.76" y="1341.38">b</text>
</g>
<text class="y" text-anchor="middle" transform="translate(2079.55 1256.77) rotate(-90)" textLength="425" lengthAdjust="spacing">qRT-PCR relative expression</text>
</g>
<g>
<rect x="65.53" y="1535.76" width="644.93" height="486.08" fill="#fff" stroke="#7d7d7d" stroke-width="2.4"/>
<rect x="191.14" y="1875.85" width="25.44" height="77.56" fill="#000"/>
<rect x="241.51" y="1878.76" width="25.44" height="74.65" fill="#000"/>
<rect x="291.87" y="1787.1" width="25.44" height="166.31" fill="#000"/>
<rect x="342.24" y="1625.76" width="25.44" height="327.65" fill="#000"/>
<rect x="442.98" y="1799.12" width="25.44" height="154.29" fill="#fe0000"/>
<rect x="493.35" y="1838.53" width="25.44" height="114.88" fill="#fe0000"/>
<rect x="543.72" y="1785.85" width="25.44" height="167.56" fill="#fe0000"/>
<rect x="594.09" y="1620.37" width="25.44" height="333.04" fill="#fe0000"/>
<path d="M179.17 1567.7V1953.41M632.49 1567.7V1953.41M171.17 1953.41H640.49M171.17 1914.84H179.17M171.17 1876.27H179.17M171.17 1837.7H179.17M171.17 1799.12H179.17M171.17 1760.55H179.17M171.17 1721.98H179.17M171.17 1683.41H179.17M171.17 1644.84H179.17M171.17 1606.27H179.17M171.17 1567.7H179.17M632.49 1876.27H640.49M632.49 1799.12H640.49M632.49 1721.98H640.49M632.49 1644.84H640.49M632.49 1567.7H640.49M179.17 1953.41V1961.41M229.54 1953.41V1961.41M279.91 1953.41V1961.41M330.28 1953.41V1961.41M380.65 1953.41V1961.41M431.01 1953.41V1961.41M481.38 1953.41V1961.41M531.75 1953.41V1961.41M582.12 1953.41V1961.41M632.49 1953.41V1961.41" stroke="#adadad" stroke-width="1.9" fill="none"/>
<path d="M203.85 1875.85V1871.71M197.35 1871.71H210.35M254.22 1878.76V1874.61M247.72 1874.61H260.72M304.59 1787.1V1777.56M298.09 1777.56H311.09M354.96 1625.76V1608.76M348.46 1608.76H361.46M455.7 1799.12V1790.41M449.2 1790.41H462.2M506.07 1838.53V1832.72M499.57 1832.72H512.57M556.44 1785.85V1777.56M549.94 1777.56H562.94M606.8 1620.37V1604.19M600.3 1604.19H613.3" stroke="#222" stroke-width="2" fill="none"/>
<g class="t" text-anchor="end">
<text transform="translate(155.67 1963.21) scale(0.98 1)">0</text>
<text transform="translate(155.67 1924.64) scale(0.98 1)">1000</text>
<text transform="translate(155.67 1886.07) scale(0.98 1)">2000</text>
<text transform="translate(155.67 1847.5) scale(0.98 1)">3000</text>
<text transform="translate(155.67 1808.92) scale(0.98 1)">4000</text>
<text transform="translate(155.67 1770.35) scale(0.98 1)">5000</text>
<text transform="translate(155.67 1731.78) scale(0.98 1)">6000</text>
<text transform="translate(155.67 1693.21) scale(0.98 1)">7000</text>
<text transform="translate(155.67 1654.64) scale(0.98 1)">8000</text>
<text transform="translate(155.67 1616.07) scale(0.98 1)">9000</text>
<text transform="translate(155.67 1577.5) scale(0.98 1)">10000</text>
</g><g class="t">
<text transform="translate(656.79 1964.01) scale(0.98 1)">0</text>
<text transform="translate(656.79 1886.87) scale(0.98 1)">0.5</text>
<text transform="translate(656.79 1809.72) scale(0.98 1)">1</text>
<text transform="translate(656.79 1732.58) scale(0.98 1)">1.5</text>
<text transform="translate(656.79 1655.44) scale(0.98 1)">2</text>
<text transform="translate(656.79 1578.3) scale(0.98 1)">2.5</text>
</g>
<g class="s" text-anchor="middle">
<text transform="translate(203.85 1995.01) scale(1.02 1)">S1</text>
<text transform="translate(254.22 1995.01) scale(1.02 1)">S2</text>
<text transform="translate(304.59 1995.01) scale(1.02 1)">S3</text>
<text transform="translate(354.96 1995.01) scale(1.02 1)">S4</text>
<text transform="translate(455.7 1995.01) scale(1.02 1)">S1</text>
<text transform="translate(506.07 1995.01) scale(1.02 1)">S2</text>
<text transform="translate(556.44 1995.01) scale(1.02 1)">S3</text>
<text transform="translate(606.8 1995.01) scale(1.02 1)">S4</text>
</g>
<text class="ti" transform="translate(389.86 1585.99) scale(0.94 1)" text-anchor="middle">CL726.Contig2</text>
<g class="l" text-anchor="middle">
<text x="456.22" y="1783.37">ab</text>
<text x="505.99" y="1824.1">a</text>
<text x="556.59" y="1771.75">b</text>
<text x="606.36" y="1597.48">c</text>
</g>
<text class="y" text-anchor="middle" transform="translate(46.8 1743.96) rotate(-90)" textLength="329.5" lengthAdjust="spacingAndGlyphs">Normalized expression</text>
</g>
<g>
<rect x="730.28" y="1537.42" width="643.69" height="482.35" fill="#fff" stroke="#7d7d7d" stroke-width="2.4"/>
<rect x="856.46" y="1949.26" width="25.76" height="4.15" fill="#000"/>
<rect x="907.47" y="1943.04" width="25.76" height="10.37" fill="#000"/>
<rect x="958.49" y="1867.56" width="25.76" height="85.85" fill="#000"/>
<rect x="1009.5" y="1661.01" width="25.76" height="292.4" fill="#000"/>
<rect x="1111.53" y="1941.38" width="25.76" height="12.03" fill="#fe0000"/>
<rect x="1162.54" y="1841.84" width="25.76" height="111.57" fill="#fe0000"/>
<rect x="1213.55" y="1809.49" width="25.76" height="143.92" fill="#fe0000"/>
<rect x="1264.57" y="1610" width="25.76" height="343.41" fill="#fe0000"/>
<path d="M844.33 1568.53V1953.41M1303.46 1568.53V1953.41M836.33 1953.41H1311.46M836.33 1889.26H844.33M836.33 1825.12H844.33M836.33 1760.97H844.33M836.33 1696.82H844.33M836.33 1632.67H844.33M836.33 1568.53H844.33M1303.46 1889.26H1311.46M1303.46 1825.12H1311.46M1303.46 1760.97H1311.46M1303.46 1696.82H1311.46M1303.46 1632.67H1311.46M1303.46 1568.53H1311.46M844.33 1953.41V1961.41M895.35 1953.41V1961.41M946.36 1953.41V1961.41M997.37 1953.41V1961.41M1048.39 1953.41V1961.41M1099.4 1953.41V1961.41M1150.41 1953.41V1961.41M1201.43 1953.41V1961.41M1252.44 1953.41V1961.41M1303.46 1953.41V1961.41" stroke="#adadad" stroke-width="1.9" fill="none"/>
<path d="M869.34 1949.26V1948.43M862.84 1948.43H875.84M920.35 1943.04V1941.38M913.85 1941.38H926.85M971.37 1867.56V1863M964.87 1863H977.87M1022.38 1661.01V1644.01M1015.88 1644.01H1028.88M1124.41 1941.38V1940.14M1117.91 1940.14H1130.91M1175.42 1841.84V1835.21M1168.92 1835.21H1181.92M1226.44 1809.49V1801.61M1219.94 1801.61H1232.94M1277.45 1610V1593M1270.95 1593H1283.95" stroke="#222" stroke-width="2" fill="none"/>
<g class="t" text-anchor="end">
<text transform="translate(820.83 1963.21) scale(0.98 1)">0</text>
<text transform="translate(820.83 1899.06) scale(0.98 1)">2000</text>
<text transform="translate(820.83 1834.92) scale(0.98 1)">4000</text>
<text transform="translate(820.83 1770.77) scale(0.98 1)">6000</text>
<text transform="translate(820.83 1706.62) scale(0.98 1)">8000</text>
<text transform="translate(820.83 1642.47) scale(0.98 1)">10000</text>
<text transform="translate(820.83 1578.33) scale(0.98 1)">12000</text>
</g><g class="t">
<text transform="translate(1327.76 1964.01) scale(0.98 1)">0</text>
<text transform="translate(1327.76 1899.86) scale(0.98 1)">5</text>
<text transform="translate(1327.76 1835.72) scale(0.98 1)">10</text>
<text transform="translate(1327.76 1771.57) scale(0.98 1)">15</text>
<text transform="translate(1327.76 1707.42) scale(0.98 1)">20</text>
<text transform="translate(1327.76 1643.27) scale(0.98 1)">25</text>
<text transform="translate(1327.76 1579.13) scale(0.98 1)">30</text>
</g>
<g class="s" text-anchor="middle">
<text transform="translate(869.34 1995.01) scale(1.02 1)">S1</text>
<text transform="translate(920.35 1995.01) scale(1.02 1)">S2</text>
<text transform="translate(971.37 1995.01) scale(1.02 1)">S3</text>
<text transform="translate(1022.38 1995.01) scale(1.02 1)">S4</text>
<text transform="translate(1124.41 1995.01) scale(1.02 1)">S1</text>
<text transform="translate(1175.42 1995.01) scale(1.02 1)">S2</text>
<text transform="translate(1226.44 1995.01) scale(1.02 1)">S3</text>
<text transform="translate(1277.45 1995.01) scale(1.02 1)">S4</text>
</g>
<text class="ti" transform="translate(1047.56 1584.75) scale(0.94 1)" text-anchor="middle">Unigene32236</text>
<g class="l" text-anchor="middle">
<text x="1125.12" y="1933.18">a</text>
<text x="1176.96" y="1829.82">ab</text>
<text x="1225.9" y="1795.81">b</text>
<text x="1276.5" y="1586.86">c</text>
</g>
</g>
<g>
<rect x="1396.59" y="1537.42" width="644.93" height="482.35" fill="#fff" stroke="#7d7d7d" stroke-width="2.4"/>
<rect x="1495.18" y="1871.71" width="27.02" height="81.71" fill="#000"/>
<rect x="1548.69" y="1780.46" width="27.02" height="172.95" fill="#000"/>
<rect x="1602.19" y="1627.42" width="27.02" height="325.99" fill="#000"/>
<rect x="1655.69" y="1734.01" width="27.02" height="219.4" fill="#000"/>
<rect x="1762.7" y="1761.38" width="27.02" height="192.03" fill="#fe0000"/>
<rect x="1816.2" y="1679.26" width="27.02" height="274.15" fill="#fe0000"/>
<rect x="1869.7" y="1622.03" width="27.02" height="331.38" fill="#fe0000"/>
<rect x="1923.2" y="1675.53" width="27.02" height="277.88" fill="#fe0000"/>
<path d="M1482.44 1568.53V1953.41M1963.96 1568.53V1953.41M1474.44 1953.41H1971.96M1474.44 1898.43H1482.44M1474.44 1843.44H1482.44M1474.44 1788.46H1482.44M1474.44 1733.48H1482.44M1474.44 1678.49H1482.44M1474.44 1623.51H1482.44M1474.44 1568.53H1482.44M1963.96 1914.92H1971.96M1963.96 1876.43H1971.96M1963.96 1837.94H1971.96M1963.96 1799.46H1971.96M1963.96 1760.97H1971.96M1963.96 1722.48H1971.96M1963.96 1683.99H1971.96M1963.96 1645.5H1971.96M1963.96 1607.01H1971.96M1963.96 1568.53H1971.96M1482.44 1953.41V1961.41M1535.94 1953.41V1961.41M1589.45 1953.41V1961.41M1642.95 1953.41V1961.41M1696.45 1953.41V1961.41M1749.95 1953.41V1961.41M1803.46 1953.41V1961.41M1856.96 1953.41V1961.41M1910.46 1953.41V1961.41M1963.96 1953.41V1961.41" stroke="#adadad" stroke-width="1.9" fill="none"/>
<path d="M1508.69 1871.71V1867.56M1502.19 1867.56H1515.19M1562.2 1780.46V1770.92M1555.7 1770.92H1568.7M1615.7 1627.42V1610.41M1609.2 1610.41H1622.2M1669.2 1734.01V1721.57M1662.7 1721.57H1675.7M1776.21 1761.38V1751.01M1769.71 1751.01H1782.71M1829.71 1679.26V1665.58M1823.21 1665.58H1836.21M1883.21 1622.03V1604.19M1876.71 1604.19H1889.71M1936.71 1675.53V1661.84M1930.21 1661.84H1943.21" stroke="#222" stroke-width="2" fill="none"/>
<g class="t" text-anchor="end">
<text transform="translate(1458.94 1963.21) scale(0.98 1)">0</text>
<text transform="translate(1458.94 1908.23) scale(0.98 1)">100</text>
<text transform="translate(1458.94 1853.24) scale(0.98 1)">200</text>
<text transform="translate(1458.94 1798.26) scale(0.98 1)">300</text>
<text transform="translate(1458.94 1743.28) scale(0.98 1)">400</text>
<text transform="translate(1458.94 1688.29) scale(0.98 1)">500</text>
<text transform="translate(1458.94 1633.31) scale(0.98 1)">600</text>
<text transform="translate(1458.94 1578.33) scale(0.98 1)">700</text>
</g><g class="t">
<text transform="translate(1988.26 1964.01) scale(0.98 1)">0</text>
<text transform="translate(1988.26 1925.52) scale(0.98 1)">0.2</text>
<text transform="translate(1988.26 1887.03) scale(0.98 1)">0.4</text>
<text transform="translate(1988.26 1848.54) scale(0.98 1)">0.6</text>
<text transform="translate(1988.26 1810.06) scale(0.98 1)">0.8</text>
<text transform="translate(1988.26 1771.57) scale(0.98 1)">1</text>
<text transform="translate(1988.26 1733.08) scale(0.98 1)">1.2</text>
<text transform="translate(1988.26 1694.59) scale(0.98 1)">1.4</text>
<text transform="translate(1988.26 1656.1) scale(0.98 1)">1.6</text>
<text transform="translate(1988.26 1617.61) scale(0.98 1)">1.8</text>
<text transform="translate(1988.26 1579.13) scale(0.98 1)">2</text>
</g>
<g class="s" text-anchor="middle">
<text transform="translate(1508.69 1995.01) scale(1.02 1)">S1</text>
<text transform="translate(1562.2 1995.01) scale(1.02 1)">S2</text>
<text transform="translate(1615.7 1995.01) scale(1.02 1)">S3</text>
<text transform="translate(1669.2 1995.01) scale(1.02 1)">S4</text>
<text transform="translate(1776.21 1995.01) scale(1.02 1)">S1</text>
<text transform="translate(1829.71 1995.01) scale(1.02 1)">S2</text>
<text transform="translate(1883.21 1995.01) scale(1.02 1)">S3</text>
<text transform="translate(1936.71 1995.01) scale(1.02 1)">S4</text>
</g>
<text class="ti" transform="translate(1713.87 1585.99) scale(0.94 1)" text-anchor="middle">CL69.Contig4</text>
<g class="l" text-anchor="middle">
<text x="1774.84" y="1746.27">a</text>
<text x="1829.17" y="1659.77">b</text>
<text x="1883.09" y="1597.23">c</text>
<text x="1936.59" y="1657.7">b</text>
</g>
<text class="y" text-anchor="middle" transform="translate(2079.55 1762.63) rotate(-90)" textLength="425" lengthAdjust="spacing">qRT-PCR relative expression</text>
</g>
<g>
<rect x="67.19" y="2043.69" width="645.35" height="481.94" fill="#fff" stroke="#7d7d7d" stroke-width="2.4"/>
<rect x="179.26" y="2163.55" width="26.25" height="296.96" fill="#000"/>
<rect x="231.25" y="2220.78" width="26.25" height="239.72" fill="#000"/>
<rect x="283.23" y="2283" width="26.25" height="177.51" fill="#000"/>
<rect x="335.21" y="2323.23" width="26.25" height="137.28" fill="#000"/>
<rect x="439.17" y="2136.18" width="26.25" height="324.33" fill="#fe0000"/>
<rect x="491.15" y="2246.5" width="26.25" height="214.01" fill="#fe0000"/>
<rect x="543.14" y="2282.17" width="26.25" height="178.34" fill="#fe0000"/>
<rect x="595.12" y="2268.48" width="26.25" height="192.03" fill="#fe0000"/>
<path d="M165.9 2074.38V2460.51M633.73 2074.38V2460.51M157.9 2460.51H641.73M157.9 2383.28H165.9M157.9 2306.06H165.9M157.9 2228.83H165.9M157.9 2151.6H165.9M157.9 2074.38H165.9M633.73 2396.15H641.73M633.73 2331.8H641.73M633.73 2267.44H641.73M633.73 2203.09H641.73M633.73 2138.73H641.73M633.73 2074.38H641.73M165.9 2460.51V2468.51M217.88 2460.51V2468.51M269.86 2460.51V2468.51M321.84 2460.51V2468.51M373.82 2460.51V2468.51M425.81 2460.51V2468.51M477.79 2460.51V2468.51M529.77 2460.51V2468.51M581.75 2460.51V2468.51M633.73 2460.51V2468.51" stroke="#adadad" stroke-width="1.9" fill="none"/>
<path d="M192.39 2163.55V2148.62M185.89 2148.62H198.89M244.37 2220.78V2208.76M237.87 2208.76H250.87M296.35 2283V2273.87M289.85 2273.87H302.85M348.33 2323.23V2316.59M341.83 2316.59H354.83M452.3 2136.18V2119.59M445.8 2119.59H458.8M504.28 2246.5V2236.13M497.78 2236.13H510.78M556.26 2282.17V2273.04M549.76 2273.04H562.76M608.24 2268.48V2257.7M601.74 2257.7H614.74" stroke="#222" stroke-width="2" fill="none"/>
<g class="t" text-anchor="end">
<text transform="translate(142.4 2470.31) scale(0.98 1)">0</text>
<text transform="translate(142.4 2393.08) scale(0.98 1)">500</text>
<text transform="translate(142.4 2315.86) scale(0.98 1)">1000</text>
<text transform="translate(142.4 2238.63) scale(0.98 1)">1500</text>
<text transform="translate(142.4 2161.4) scale(0.98 1)">2000</text>
<text transform="translate(142.4 2084.18) scale(0.98 1)">2500</text>
</g><g class="t">
<text transform="translate(656.73 2471.11) scale(0.98 1)">0</text>
<text transform="translate(656.73 2406.75) scale(0.98 1)">0.2</text>
<text transform="translate(656.73 2342.4) scale(0.98 1)">0.4</text>
<text transform="translate(656.73 2278.04) scale(0.98 1)">0.6</text>
<text transform="translate(656.73 2213.69) scale(0.98 1)">0.8</text>
<text transform="translate(656.73 2149.33) scale(0.98 1)">1</text>
<text transform="translate(656.73 2084.98) scale(0.98 1)">1.2</text>
</g>
<g class="s" text-anchor="middle">
<text transform="translate(192.39 2502.11) scale(1.02 1)">S1</text>
<text transform="translate(244.37 2502.11) scale(1.02 1)">S2</text>
<text transform="translate(296.35 2502.11) scale(1.02 1)">S3</text>
<text transform="translate(348.33 2502.11) scale(1.02 1)">S4</text>
<text transform="translate(452.3 2502.11) scale(1.02 1)">S1</text>
<text transform="translate(504.28 2502.11) scale(1.02 1)">S2</text>
<text transform="translate(556.26 2502.11) scale(1.02 1)">S3</text>
<text transform="translate(608.24 2502.11) scale(1.02 1)">S4</text>
</g>
<text class="ti" transform="translate(383.64 2091.84) scale(0.94 1)" text-anchor="middle">Unigene25370</text>
<g class="l" text-anchor="middle">
<text x="451.24" y="2112.58">a</text>
<text x="503.92" y="2229.91">b</text>
<text x="555.76" y="2266.41">b</text>
<text x="608.43" y="2251.89">b</text>
</g>
<text class="y" text-anchor="middle" transform="translate(46.8 2266.41) rotate(-90)" textLength="329.5" lengthAdjust="spacingAndGlyphs">Normalized expression</text>
</g>
<g>
<rect x="730.28" y="2042.44" width="644.52" height="482.35" fill="#fff" stroke="#7d7d7d" stroke-width="2.4"/>
<rect x="842.38" y="2109.63" width="26.27" height="348.8" fill="#000"/>
<rect x="894.41" y="2209.17" width="26.27" height="249.26" fill="#000"/>
<rect x="946.43" y="2343.13" width="26.27" height="115.3" fill="#000"/>
<rect x="998.46" y="2395.39" width="26.27" height="63.04" fill="#000"/>
<rect x="1102.52" y="2137" width="26.27" height="321.43" fill="#fe0000"/>
<rect x="1154.54" y="2274.7" width="26.27" height="183.73" fill="#fe0000"/>
<rect x="1206.57" y="2331.94" width="26.27" height="126.5" fill="#fe0000"/>
<rect x="1258.6" y="2405.76" width="26.27" height="52.67" fill="#fe0000"/>
<path d="M829.4 2072.72V2458.43M1297.65 2072.72V2458.43M821.4 2458.43H1305.65M821.4 2403.33H829.4M821.4 2348.23H829.4M821.4 2293.13H829.4M821.4 2238.03H829.4M821.4 2182.92H829.4M821.4 2127.82H829.4M821.4 2072.72H829.4M1297.65 2394.15H1305.65M1297.65 2329.86H1305.65M1297.65 2265.58H1305.65M1297.65 2201.29H1305.65M1297.65 2137H1305.65M1297.65 2072.72H1305.65M829.4 2458.43V2466.43M881.43 2458.43V2466.43M933.46 2458.43V2466.43M985.48 2458.43V2466.43M1037.51 2458.43V2466.43M1089.54 2458.43V2466.43M1141.57 2458.43V2466.43M1193.59 2458.43V2466.43M1245.62 2458.43V2466.43M1297.65 2458.43V2466.43" stroke="#adadad" stroke-width="1.9" fill="none"/>
<path d="M855.51 2109.63V2092.21M849.01 2092.21H862.01M907.54 2209.17V2195.48M901.04 2195.48H914.04M959.57 2343.13V2336.5M953.07 2336.5H966.07M1011.6 2395.39V2390.83M1005.1 2390.83H1018.1M1115.65 2137V2120.83M1109.15 2120.83H1122.15M1167.68 2274.7V2265.16M1161.18 2265.16H1174.18M1219.71 2331.94V2325.71M1213.21 2325.71H1226.21M1271.74 2405.76V2402.86M1265.24 2402.86H1278.24" stroke="#222" stroke-width="2" fill="none"/>
<g class="t" text-anchor="end">
<text transform="translate(805.9 2468.23) scale(0.98 1)">0</text>
<text transform="translate(805.9 2413.13) scale(0.98 1)">500</text>
<text transform="translate(805.9 2358.03) scale(0.98 1)">1000</text>
<text transform="translate(805.9 2302.93) scale(0.98 1)">1500</text>
<text transform="translate(805.9 2247.83) scale(0.98 1)">2000</text>
<text transform="translate(805.9 2192.72) scale(0.98 1)">2500</text>
<text transform="translate(805.9 2137.62) scale(0.98 1)">3000</text>
<text transform="translate(805.9 2082.52) scale(0.98 1)">3500</text>
</g><g class="t">
<text transform="translate(1321.95 2469.03) scale(0.98 1)">0</text>
<text transform="translate(1321.95 2404.75) scale(0.98 1)">0.2</text>
<text transform="translate(1321.95 2340.46) scale(0.98 1)">0.4</text>
<text transform="translate(1321.95 2276.18) scale(0.98 1)">0.6</text>
<text transform="translate(1321.95 2211.89) scale(0.98 1)">0.8</text>
<text transform="translate(1321.95 2147.6) scale(0.98 1)">1</text>
<text transform="translate(1321.95 2083.32) scale(0.98 1)">1.2</text>
</g>
<g class="s" text-anchor="middle">
<text transform="translate(855.51 2500.03) scale(1.02 1)">S1</text>
<text transform="translate(907.54 2500.03) scale(1.02 1)">S2</text>
<text transform="translate(959.57 2500.03) scale(1.02 1)">S3</text>
<text transform="translate(1011.6 2500.03) scale(1.02 1)">S4</text>
<text transform="translate(1115.65 2500.03) scale(1.02 1)">S1</text>
<text transform="translate(1167.68 2500.03) scale(1.02 1)">S2</text>
<text transform="translate(1219.71 2500.03) scale(1.02 1)">S3</text>
<text transform="translate(1271.74 2500.03) scale(1.02 1)">S4</text>
</g>
<text class="ti" transform="translate(1064.98 2089.77) scale(0.94 1)" text-anchor="middle">CL1935.Contig6</text>
<g class="l" text-anchor="middle">
<text x="1116.82" y="2115.53">a</text>
<text x="1167.42" y="2257.7">b</text>
<text x="1219.26" y="2318.75">c</text>
<text x="1271.11" y="2395.81">d</text>
</g>
</g>
<g>
<rect x="1396.59" y="2041.61" width="642.86" height="481.94" fill="#fff" stroke="#7d7d7d" stroke-width="2.4"/>
<rect x="1507.65" y="2295.44" width="26.23" height="161.75" fill="#000"/>
<rect x="1559.59" y="2239.86" width="26.23" height="217.33" fill="#000"/>
<rect x="1611.52" y="2151.52" width="26.23" height="305.67" fill="#000"/>
<rect x="1663.46" y="2192.58" width="26.23" height="264.61" fill="#000"/>
<rect x="1767.33" y="2304.98" width="26.23" height="152.21" fill="#fe0000"/>
<rect x="1819.27" y="2334.84" width="26.23" height="122.35" fill="#fe0000"/>
<rect x="1871.2" y="2323.23" width="26.23" height="133.96" fill="#fe0000"/>
<rect x="1923.14" y="2174.33" width="26.23" height="282.86" fill="#fe0000"/>
<path d="M1495.3 2072.72V2457.19M1962.72 2072.72V2457.19M1487.3 2457.19H1970.72M1487.3 2393.11H1495.3M1487.3 2329.03H1495.3M1487.3 2264.95H1495.3M1487.3 2200.88H1495.3M1487.3 2136.8H1495.3M1487.3 2072.72H1495.3M1962.72 2380.29H1970.72M1962.72 2303.4H1970.72M1962.72 2226.51H1970.72M1962.72 2149.61H1970.72M1962.72 2072.72H1970.72M1495.3 2457.19V2465.19M1547.24 2457.19V2465.19M1599.17 2457.19V2465.19M1651.11 2457.19V2465.19M1703.04 2457.19V2465.19M1754.98 2457.19V2465.19M1806.91 2457.19V2465.19M1858.85 2457.19V2465.19M1910.78 2457.19V2465.19M1962.72 2457.19V2465.19" stroke="#adadad" stroke-width="1.9" fill="none"/>
<path d="M1520.77 2295.44V2287.56M1514.27 2287.56H1527.27M1572.7 2239.86V2229.08M1566.2 2229.08H1579.2M1624.64 2151.52V2134.93M1618.14 2134.93H1631.14M1676.57 2192.58V2177.24M1670.07 2177.24H1683.07M1780.44 2304.98V2295.44M1773.94 2295.44H1786.94M1832.38 2334.84V2327.79M1825.88 2327.79H1838.88M1884.32 2323.23V2315.35M1877.82 2315.35H1890.82M1936.25 2174.33V2160.23M1929.75 2160.23H1942.75" stroke="#222" stroke-width="2" fill="none"/>
<g class="t" text-anchor="end">
<text transform="translate(1471.8 2466.99) scale(0.98 1)">0</text>
<text transform="translate(1471.8 2402.91) scale(0.98 1)">1000</text>
<text transform="translate(1471.8 2338.83) scale(0.98 1)">2000</text>
<text transform="translate(1471.8 2274.75) scale(0.98 1)">3000</text>
<text transform="translate(1471.8 2210.68) scale(0.98 1)">4000</text>
<text transform="translate(1471.8 2146.6) scale(0.98 1)">5000</text>
<text transform="translate(1471.8 2082.52) scale(0.98 1)">6000</text>
</g><g class="t">
<text transform="translate(1984.42 2467.79) scale(0.98 1)">0</text>
<text transform="translate(1984.42 2390.89) scale(0.98 1)">0.5</text>
<text transform="translate(1984.42 2314) scale(0.98 1)">1</text>
<text transform="translate(1984.42 2237.11) scale(0.98 1)">1.5</text>
<text transform="translate(1984.42 2160.21) scale(0.98 1)">2</text>
<text transform="translate(1984.42 2083.32) scale(0.98 1)">2.5</text>
</g>
<g class="s" text-anchor="middle">
<text transform="translate(1520.77 2498.79) scale(1.02 1)">S1</text>
<text transform="translate(1572.7 2498.79) scale(1.02 1)">S2</text>
<text transform="translate(1624.64 2498.79) scale(1.02 1)">S3</text>
<text transform="translate(1676.57 2498.79) scale(1.02 1)">S4</text>
<text transform="translate(1780.44 2498.79) scale(1.02 1)">S1</text>
<text transform="translate(1832.38 2498.79) scale(1.02 1)">S2</text>
<text transform="translate(1884.32 2498.79) scale(1.02 1)">S3</text>
<text transform="translate(1936.25 2498.79) scale(1.02 1)">S4</text>
</g>
<text class="ti" transform="translate(1720.09 2089.77) scale(0.94 1)" text-anchor="middle">CL235.Contig1</text>
<g class="l" text-anchor="middle">
<text x="1781.06" y="2290.68">a</text>
<text x="1832.07" y="2321.96">a</text>
<text x="1883.92" y="2309.39">a</text>
<text x="1935.76" y="2153.85">b</text>
</g>
<text class="y" text-anchor="middle" transform="translate(2079.55 2274.7) rotate(-90)" textLength="425" lengthAdjust="spacing">qRT-PCR relative expression</text>
</g>
<rect x="20.4" y="2549.6" width="35" height="35" fill="#000"/>
<rect x="1064.6" y="2549.6" width="35" height="35" fill="#fe0000"/>
<text class="lg" x="63.5" y="2580.8" textLength="939.5" lengthAdjust="spacingAndGlyphs">Normalized expression of miRNA/mRNA from RNA-Seq</text>
<text class="lg" x="1111.3" y="2580.8" textLength="872.5" lengthAdjust="spacingAndGlyphs">Relative expression of miRNA/mRNA in qRT-PCR(2</text>
<text class="sup" x="1986" y="2566.9" textLength="66.5" lengthAdjust="spacingAndGlyphs">-ΔΔCt)</text>
</svg>
</body>
</html>
